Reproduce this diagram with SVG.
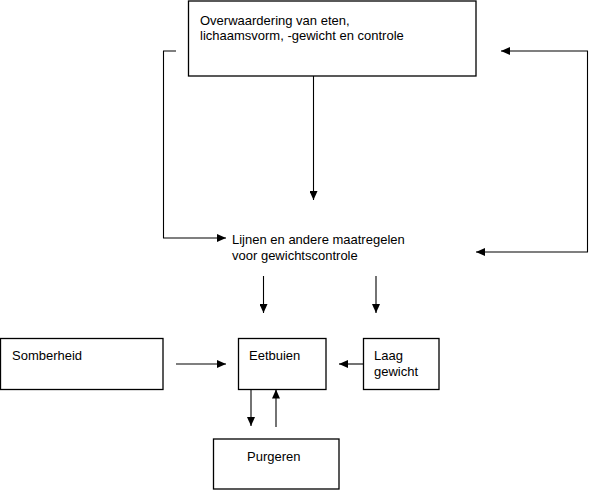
<svg xmlns="http://www.w3.org/2000/svg" width="590" height="490" viewBox="0 0 590 490">
<style>
.box{fill:#fff;stroke:#000;stroke-width:1.3}
.t{font-family:"Liberation Sans",Arial,sans-serif;font-size:13px;fill:#000}
.c{fill:none;stroke:#000;stroke-width:1.1}
</style>
<defs>
<marker id="ah" markerUnits="userSpaceOnUse" markerWidth="9" markerHeight="8" refX="9" refY="4" orient="auto-start-reverse">
<path d="M0,0 L9,4 L0,8 Z" fill="#000"/>
</marker>
</defs>
<rect width="590" height="490" fill="#fff"/>
<g id="n-overwaardering">
<rect class="box" x="188.5" y="1" width="287.5" height="75"/>
<text class="t" x="200" y="24.5">Overwaardering van eten,</text>
<text class="t" x="200" y="39.5">lichaamsvorm, -gewicht en controle</text>
</g>
<g id="n-lijnen">
<text class="t" x="232" y="244">Lijnen en andere maatregelen</text>
<text class="t" x="232" y="260">voor gewichtscontrole</text>
</g>
<g id="n-somberheid">
<rect class="box" x="0.5" y="338.5" width="162.5" height="51"/>
<text class="t" x="12" y="360">Somberheid</text>
</g>
<g id="n-eetbuien">
<rect class="box" x="238.5" y="338.5" width="87.5" height="51"/>
<text class="t" x="249" y="360">Eetbuien</text>
</g>
<g id="n-laag">
<rect class="box" x="363.5" y="338.5" width="75.5" height="51"/>
<text class="t" x="374" y="360">Laag</text>
<text class="t" x="374" y="376">gewicht</text>
</g>
<g id="n-purgeren">
<rect class="box" x="213.5" y="439" width="125.5" height="50"/>
<text class="t" x="247" y="461">Purgeren</text>
</g>
<g id="connectors">
<path class="c" d="M313.5,76 V200" marker-end="url(#ah)"/>
<path class="c" d="M176,51 H163.5 V238 H226" marker-end="url(#ah)"/>
<path class="c" d="M501,51 H587.5 V252 H476" marker-start="url(#ah)" marker-end="url(#ah)"/>
<path class="c" d="M263.5,276 V313" marker-end="url(#ah)"/>
<path class="c" d="M376,276 V313" marker-end="url(#ah)"/>
<path class="c" d="M176,364 H226" marker-end="url(#ah)"/>
<path class="c" d="M363,364 H339" marker-end="url(#ah)"/>
<path class="c" d="M251,389 V426" marker-end="url(#ah)"/>
<path class="c" d="M276,427 V389.5" marker-end="url(#ah)"/>
</g>
</svg>
